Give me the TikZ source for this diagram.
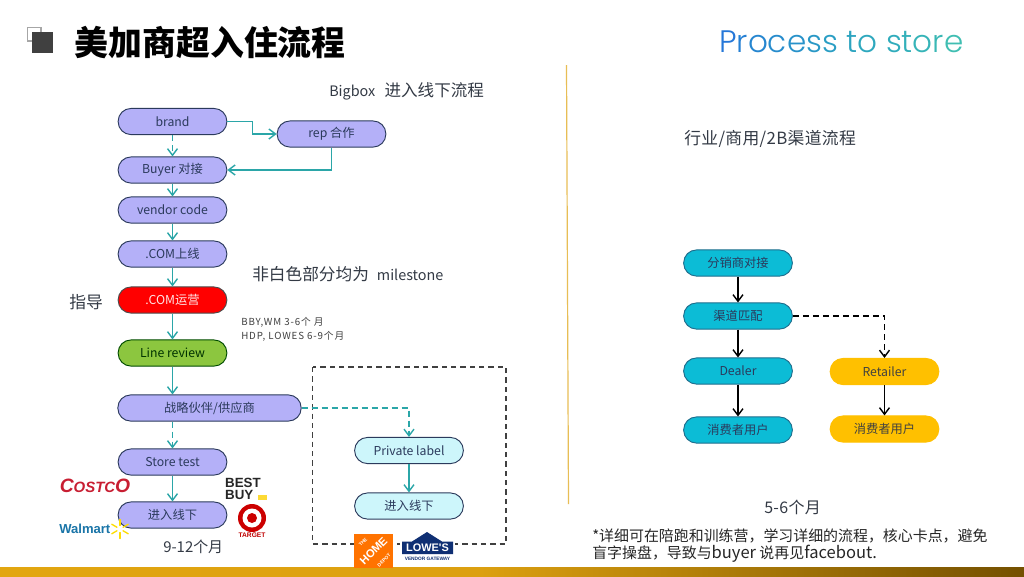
\documentclass[tikz,border=0pt]{standalone}
\usepackage{fontspec}
\setmainfont{Noto Sans CJK SC}
\newfontfamily\logofont{Liberation Sans}
\newfontfamily\titlelat{Poppins Light}
\usetikzlibrary{arrows.meta}
\newcommand{\fs}[2]{\fontsize{#1pt}{#2pt}\selectfont}
\definecolor{purplefill}{HTML}{B4B0F8}
\definecolor{edgeblue}{HTML}{2B3A5C}
\definecolor{tealline}{HTML}{2BA6A8}
\definecolor{txt}{HTML}{333A45}
\definecolor{cyanfill}{HTML}{0CBCD6}
\definecolor{lightcyan}{HTML}{CDF6FB}
\definecolor{ambfill}{HTML}{FFC000}
\definecolor{goldline}{HTML}{E8BE55}
\definecolor{limefill}{HTML}{8CC63F}
\definecolor{barA}{HTML}{E2A610}
\definecolor{barB}{HTML}{DCA010}
\definecolor{barC}{HTML}{745000}
\definecolor{costcored}{HTML}{C81E32}
\definecolor{walblue}{HTML}{1A75A8}
\definecolor{lowesblue}{HTML}{0F2F73}
\tikzset{
  x=0.75pt,y=-0.75pt,
  pill/.style={draw=edgeblue,line width=0.7pt,rounded corners=9.6pt,minimum width=81.5pt,minimum height=19.6pt,inner sep=0pt,text=edgeblue,font=\fs{9.2}{11},fill=purplefill},
  pillred/.style={pill,fill=red,draw=black!70,text=white!90!red},
  pillgreen/.style={pill,fill=limefill,draw=black!70!green,text=black!80!green},
  pillcyan/.style={pill,fill=lightcyan},
  pillteal/.style={pill,fill=cyanfill,draw=edgeblue!60!cyanfill},
  pillamb/.style={pill,fill=ambfill,draw=ambfill,text=black!75},
  flow/.style={draw=tealline,line width=1.05pt,-{Straight Barb[length=5pt,width=7.5pt,line width=1.05pt]}},
  flowdash/.style={flow,dash pattern=on 4.5pt off 3pt},
  blk/.style={draw=black,line width=1.05pt,-{Straight Barb[length=5pt,width=7.5pt,line width=1.05pt]}},
  blkdash/.style={blk,dash pattern=on 4.5pt off 3pt},
  label/.style={inner sep=0pt,text=txt,anchor=west},
}
\begin{document}
\begin{tikzpicture}
\useasboundingbox (0,0) rectangle (1024,576);
\fill[white] (0,0) rectangle (1024,576);
% bottom bar
\shade[left color=barA,right color=barB] (0,567) rectangle (480,576);
\shade[left color=barB,right color=barC] (480,567) rectangle (1024,576);
% icon
\draw[draw=black!35,fill=white,line width=0.8pt] (27.5,27.5) rectangle (41,41);
\fill[black!75] (32,32) rectangle (53,53);
% headline
\node[label,font=\fs{25.4}{30}\bfseries,text=black] (title) at (74.5,43) {美加商超入住流程};
\node[label,font=\fs{23.3}{28}\titlelat] (proc) at (719,42) {\textcolor[HTML]{2577D8}{P}\textcolor[HTML]{2580D4}{r}\textcolor[HTML]{2686D0}{o}\textcolor[HTML]{278CCD}{c}\textcolor[HTML]{2892CA}{e}\textcolor[HTML]{2998C6}{s}\textcolor[HTML]{2A9EC4}{s} \textcolor[HTML]{2CA4C0}{t}\textcolor[HTML]{2EA8BE}{o} \textcolor[HTML]{30ACBC}{s}\textcolor[HTML]{33B0BA}{t}\textcolor[HTML]{36B4B8}{o}\textcolor[HTML]{3AB8B5}{r}\textcolor[HTML]{40BEB2}{e}};
% divider
\draw[goldline,line width=0.9pt] (566.5,65) -- (568.5,504);
% labels
\node[label,font=\fs{12.4}{15}] (bigbox) at (329,91.5) {{\fs{10.8}{15}Bigbox}\hspace{7pt}进入线下流程};
\node[label,font=\fs{12.5}{15}] (mile) at (252,274.5) {非白色部分均为\hspace{6pt}{\fs{10.8}{15}milestone}};
\node[label,font=\fs{12.6}{15}] (zhidao) at (69,302) {指导};
\node[label,font=\fs{7.3}{10.4}\addfontfeature{LetterSpace=9},align=left,text=black!75] (bby) at (241,329) {BBY,WM 3-6个 月\\HDP, LOWES 6-9个月};
\node[label,font=\fs{11.2}{13}] (dur1) at (163,547) {9-12个月};
\node[label,font=\fs{12.6}{15}\addfontfeature{LetterSpace=2}] (chan) at (684,139) {行业/商用/2B渠道流程};
\node[label,font=\fs{12}{14}\addfontfeature{LetterSpace=2}] (dur2) at (764,507) {5-6个月};
\node[label,font=\fs{11.2}{12.8},align=left,text=black!85] (note) at (592,545.5) {*详细可在陪跑和训练营，学习详细的流程，核心卡点，避免\\盲字操盘，导致与{\fs{12.4}{12.8}buyer} 说再见{\fs{12.4}{12.8}facebout.}};
% left flow
\node[pill] (brand) at (172.5,121.5) {brand};
\node[pill] (rep) at (331.5,134) {rep 合作};
\node[pill] (buyer) at (172.5,170) {Buyer 对接};
\node[pill] (vendor) at (172.5,210) {vendor code};
\node[pill] (comon) at (172.5,254) {.COM上线};
\node[pillred] (comop) at (172.5,300) {.COM运营};
\node[pillgreen] (line) at (172.5,353) {Line review};
\node[pill,minimum width=137.5pt] (partner) at (209.5,408) {战略伙伴/供应商};
\node[pill] (store) at (172.5,462) {Store test};
\node[pill] (off) at (172.5,515) {进入线下};
\draw[flowdash] (brand.south) -- (buyer.north);
\draw[flow] (brand.east) -- ++(25,0) |- (rep.west);
\draw[flow] (rep.south) |- (buyer.east);
\draw[flow] (buyer.south) -- (vendor.north);
\draw[flow] (vendor.south) -- (comon.north);
\draw[flow] (comon.south) -- (comop.north);
\draw[flow] (comop.south) -- (line.north);
\draw[flow] (line.south) -- (line.south |- partner.north);
\draw[flowdash] (store.north |- partner.south) -- (store.north);
\draw[flow] (store.south) -- (off.north);
% dashed box and private label
\draw[black!75,line width=0.9pt,dash pattern=on 4pt off 3pt] (312.5,367) rectangle (506,544);
\node[pillcyan] (priv) at (409,450.5) {Private label};
\node[pillcyan] (off2) at (409,506) {进入线下};
\draw[flowdash] (partner.east) -| (priv.north);
\draw[flow] (priv.south) -- (off2.north);
% right flow
\node[pillteal] (dist) at (738,263) {分销商对接};
\node[pillteal] (match) at (738,316) {渠道匹配};
\node[pillteal] (dealer) at (738,371) {Dealer};
\node[pillteal] (cons1) at (738,430) {消费者用户};
\node[pillamb] (retail) at (884.5,371.5) {Retailer};
\node[pillamb] (cons2) at (884.5,429) {消费者用户};
\draw[blk] (dist.south) -- (match.north);
\draw[blk] (match.south) -- (dealer.north);
\draw[blk] (dealer.south) -- (cons1.north);
\draw[blkdash] (match.east) -| (retail.north);
\draw[blk] (retail.south) -- (cons2.north);
% logos
\node[inner sep=0pt,text=costcored,font=\logofont\bfseries\itshape] (costco) at (95,486) {\fs{14.5}{14}C\fs{11.2}{14}OSTC\fs{14.5}{14}O};
\node[inner sep=0pt,align=left,text=black!85,font=\logofont\bfseries\fs{10}{8.6}] (bestbuy) at (243,489) {BEST\\BUY};
\fill[yellow!70!orange!80] (258,495) rectangle (267,500);
\fill[red!80!black] (252,518) circle (14);
\fill[white] (252,518) circle (9.5);
\fill[red!80!black] (252,518) circle (5);
\node[inner sep=0pt,text=red!75!black,font=\logofont\bfseries\fs{5}{6}] (target) at (252,535) {TARGET};
\node[inner sep=0pt,text=walblue,font=\logofont\bfseries\fs{9.8}{12},anchor=west] (walmart) at (59,529) {Walmart};
\foreach \a in {30,90,150,210,270,330}
  \draw[yellow!80!orange,line width=1pt,line cap=round] (120,529) ++(\a:3.5) -- ++(\a:6);
\fill[orange!90!red] (354,534) rectangle (393,568);
\node[inner sep=0pt,rotate=45,text=white,font=\logofont\bfseries\fs{8.4}{8.4}] (depot) at (373.5,551) {HOME};
\node[inner sep=0pt,rotate=45,text=white,font=\logofont\bfseries\fs{3.6}{4}] (depotA) at (363,542) {THE};
\node[inner sep=0pt,rotate=45,text=white,font=\logofont\bfseries\fs{3.6}{4}] (depotB) at (384,560) {DEPOT};
\fill[white] (400,530) rectangle (455,565);
\fill[lowesblue] (402,541.5) -- (412,541.5) -- (427,532) -- (442,541.5) -- (453,541.5) -- (453,554) -- (402,554) -- cycle;
\node[inner sep=0pt,text=white,font=\logofont\bfseries\fs{8.2}{8.5}] (lowes) at (427.5,548) {LOWE'S};
\node[inner sep=0pt,text=lowesblue,font=\logofont\bfseries\fs{3.6}{4}] (gateway) at (427.5,559) {VENDOR GATEWAY};
\end{tikzpicture}
\end{document}
